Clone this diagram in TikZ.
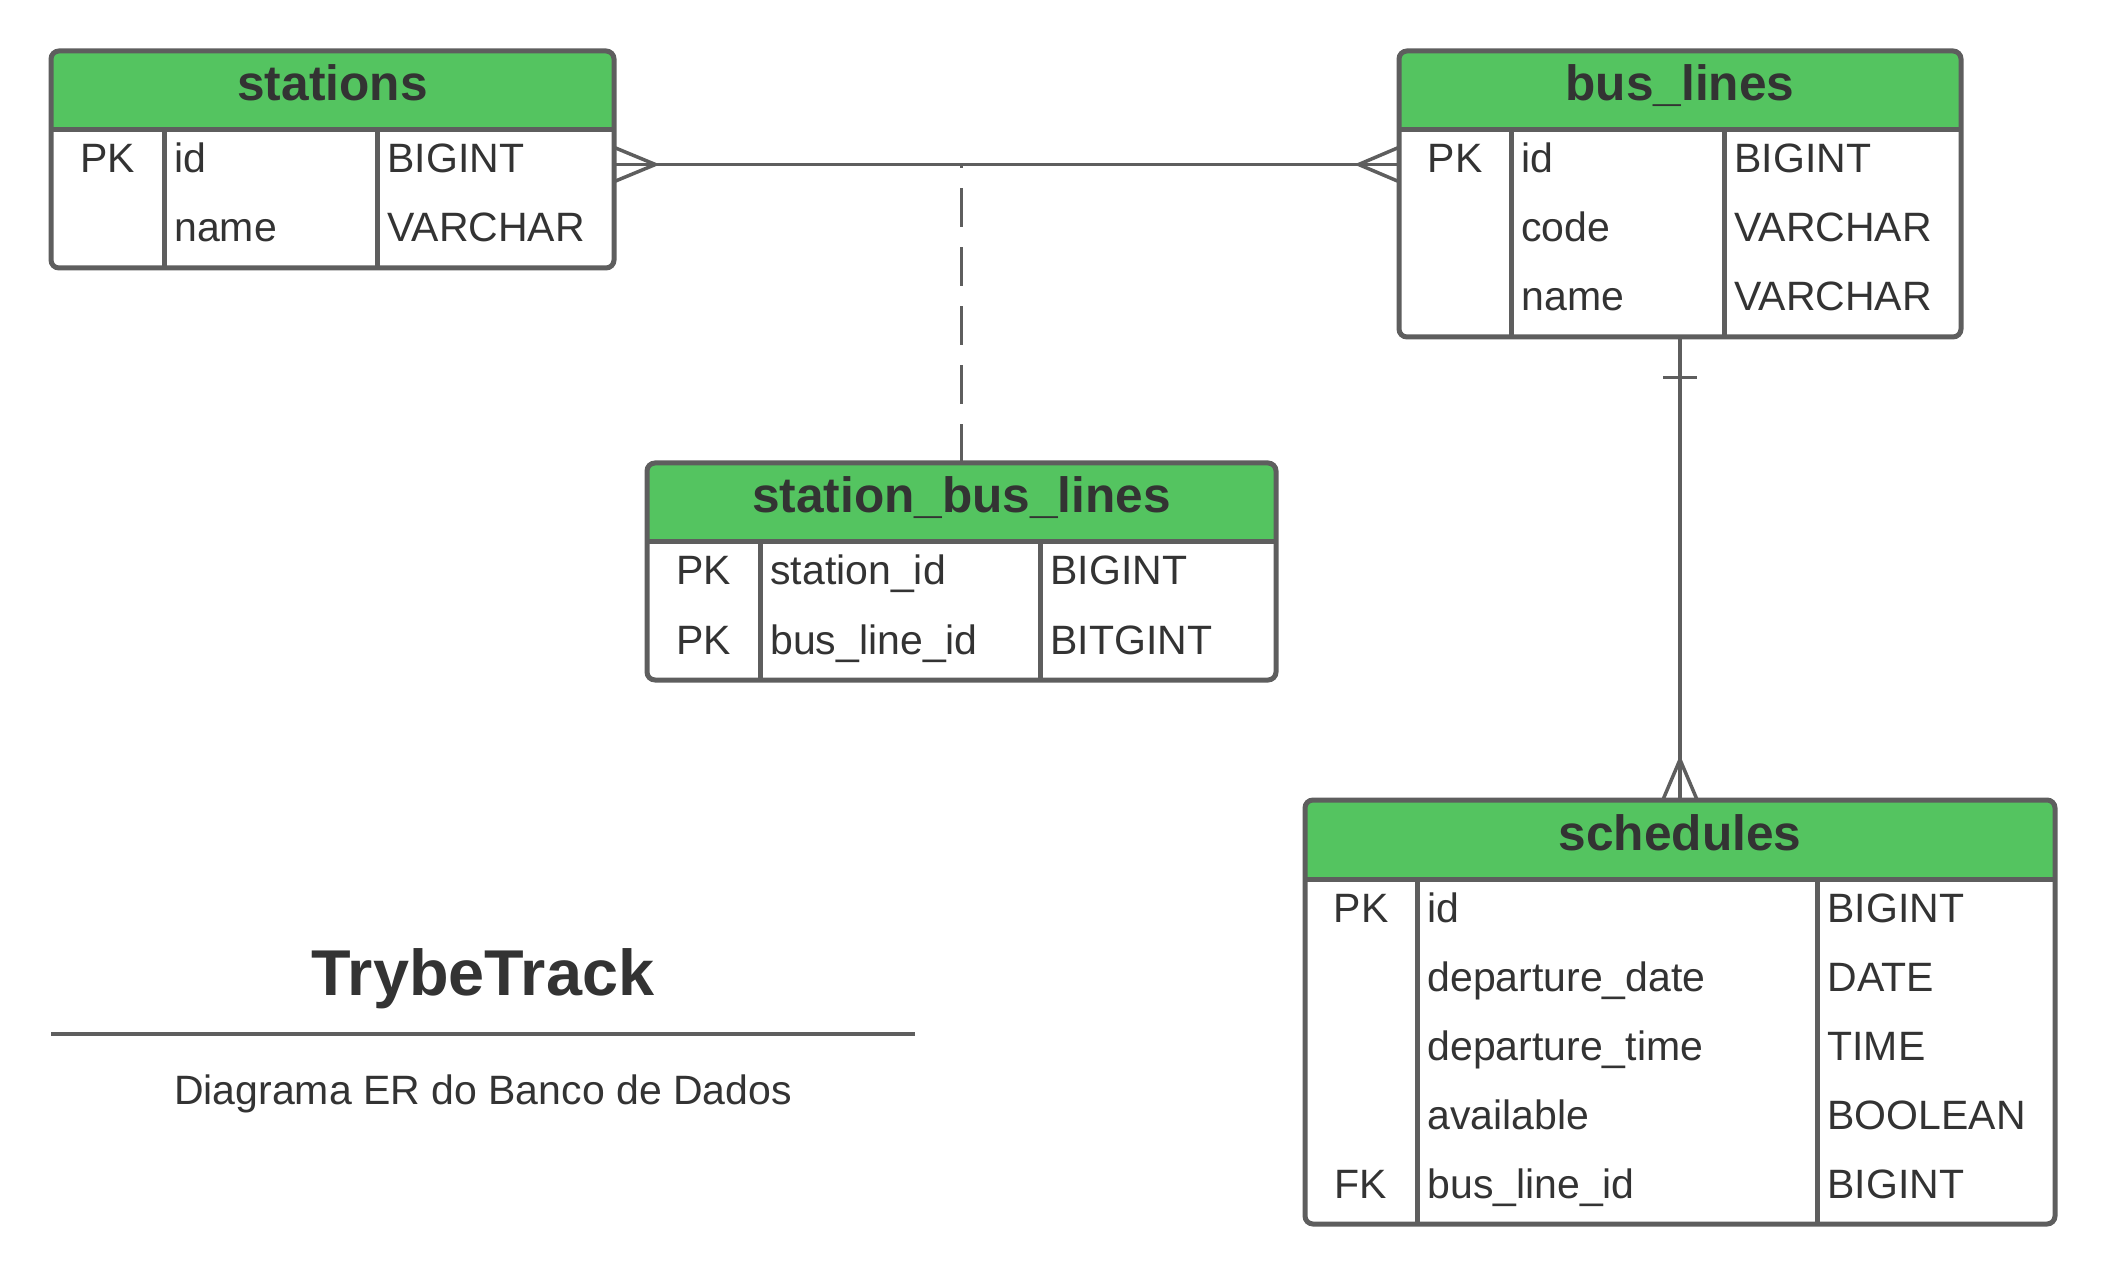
\documentclass[tikz,border=0pt]{standalone}
\usepackage{fontspec}
\setmainfont{Liberation Sans}
\usepackage{tikz}
\usetikzlibrary{fit}
\usepackage{xcolor}

\definecolor{hdrgreen}{HTML}{54C460}
\definecolor{linegray}{HTML}{5E5E5E}
\definecolor{txt}{HTML}{333333}

\tikzset{
  tbl/.style={draw=linegray, line width=2.5pt},
  tblname/.style={font=\bfseries\fontsize{24.8}{30}\selectfont, text=txt, inner sep=0pt, anchor=base},
  cell/.style={font=\fontsize{20.5}{24}\selectfont, text=txt, inner sep=0pt, anchor=base west},
  keycell/.style={cell, anchor=base},
  rel/.style={draw=linegray, line width=1.75pt},
}

% #1 name, #2 left, #3 right, #4 top, #5/#6 column lines, #7 rows, #8 title, #9 fields
\newcommand{\ertable}[9]{
  \pgfmathsetmacro\hb{#4+79}
  \pgfmathsetmacro\bt{\hb+69*#7}
  \fill[hdrgreen] (#2,\hb) {[rounded corners=4pt] -- (#2,#4) -- (#3,#4)} -- (#3,\hb) -- cycle;
  \draw[tbl, rounded corners=4pt] (#2,#4) rectangle (#3,\bt);
  \draw[tbl] (#2,\hb) -- (#3,\hb) (#5,\hb) -- (#5,\bt) (#6,\hb) -- (#6,\bt);
  \coordinate (#1-nw) at (#2,#4);
  \coordinate (#1-se) at (#3,\bt);
  \node[inner sep=0pt, fit=(#1-nw)(#1-se)] (#1) {};
  \node[tblname] (#1-name) at ({(#2+#3)/2},\hb-29) {#8};
  \foreach \k/\f/\t [count=\i] in {#9} {
    \coordinate (#1-r\i) at (#2,\hb+69*\i-34.5);
    \node[keycell] (#1-k\i) at ({(#2+#5)/2},\hb+69*\i-26) {\k};
    \node[cell] (#1-f\i) at (#5+10,\hb+69*\i-26) {\f};
    \node[cell] (#1-t\i) at (#6+10,\hb+69*\i-26) {\t};
  }
}

\begin{document}
\begin{tikzpicture}[x=0.5pt, y=-0.5pt]
  \useasboundingbox (0,0) rectangle (2106,1283);

  \ertable{stations}{51}{614}{51}{164}{377}{2}{stations}
    {PK/id/BIGINT, {}/name/VARCHAR}
  \ertable{buslines}{1399}{1961}{51}{1511}{1724}{3}{bus\_lines}
    {PK/id/BIGINT, {}/code/VARCHAR, {}/name/VARCHAR}
  \ertable{stbus}{647}{1276}{463}{760}{1040}{2}{station\_bus\_lines}
    {PK/station\_id/BIGINT, PK/bus\_line\_id/BITGINT}
  \ertable{schedules}{1305}{2055}{800}{1417}{1817}{5}{schedules}
    {PK/id/BIGINT, {}/departure\_date/DATE, {}/departure\_time/TIME, {}/available/BOOLEAN, FK/bus\_line\_id/BIGINT}

  % stations >--< bus_lines
  \draw[rel] (stations.east |- stations-r1) -- (buslines.west |- buslines-r1);
  \draw[rel] (stations.east |- stations-r1) ++(0,-17) -- ++(41,17) -- ++(-41,17);
  \draw[rel] (buslines.west |- buslines-r1) ++(0,-17) -- ++(-40,17) -- ++(40,17);
  \draw[rel, dash pattern=on 19.5pt off 10pt] (stbus.north) -- (stbus.north |- stations-r1);

  % bus_lines |--< schedules
  \draw[rel] (buslines.south) -- (schedules.north);
  \draw[rel] (buslines.south) ++(-17,40) -- ++(34,0);
  \draw[rel] (schedules.north) ++(-17,0) -- ++(17,-40) -- ++(17,40);

  % title block
  \node[font=\bfseries\fontsize{32.4}{38}\selectfont, text=txt, inner sep=0pt, anchor=base] (title) at (483,995) {TrybeTrack};
  \coordinate (rule-w) at (51,1034);
  \coordinate (rule-e) at (915,1034);
  \draw[rel, line width=2pt] (rule-w) -- (rule-e);
  \node[cell, anchor=base] (subtitle) at (483,1104) {Diagrama ER do Banco de Dados};
\end{tikzpicture}
\end{document}
